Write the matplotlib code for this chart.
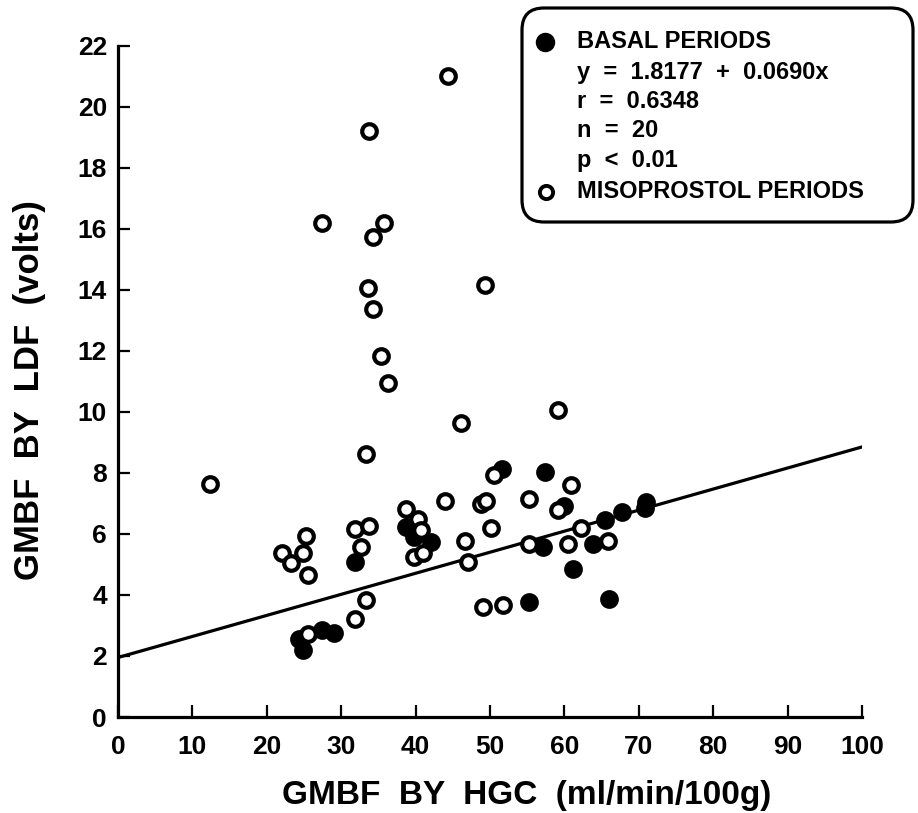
import matplotlib
matplotlib.use('Agg')
import matplotlib.pyplot as plt
from matplotlib.patches import FancyBboxPatch
from matplotlib.lines import Line2D
from matplotlib.transforms import IdentityTransform

# basal periods (filled circles)
basal_x = [24.3, 24.9, 27.4, 29.0, 31.8, 38.7, 39.8, 42.1, 51.6, 57.4,
           60.0, 57.1, 55.3, 61.2, 63.9, 65.4, 67.8, 70.8, 71.0, 66.0]
basal_y = [2.57, 2.19, 2.86, 2.76, 5.08, 6.23, 5.90, 5.74, 8.12, 8.03,
           6.91, 5.57, 3.77, 4.86, 5.68, 6.45, 6.72, 6.85, 7.05, 3.86]

# misoprostol periods (open circles)
miso_x = [12.4, 44.4, 33.7, 27.4, 35.8, 34.3, 33.6, 34.3, 35.3, 36.3,
          49.3, 46.1, 59.2, 33.4,
          22.1, 23.3, 24.9, 25.3, 25.6, 25.6,
          31.9, 33.7, 32.6, 33.3, 31.8,
          38.7, 40.3, 40.7, 39.8, 41.0,
          43.9, 46.7, 47.0, 48.8, 49.5, 50.1, 50.5, 49.0, 51.8,
          55.3, 55.3, 59.1, 60.9, 60.5, 62.2, 65.8]
miso_y = [7.65, 21.0, 19.2, 16.18, 16.2, 15.72, 14.06, 13.37, 11.83, 10.95,
          14.16, 9.64, 10.05, 8.63,
          5.38, 5.06, 5.38, 5.92, 4.65, 2.73,
          6.17, 6.25, 5.57, 3.85, 3.21,
          6.83, 6.50, 6.12, 5.24, 5.38,
          7.07, 5.77, 5.08, 6.97, 7.07, 6.20, 7.92, 3.59, 3.68,
          7.16, 5.66, 6.78, 7.59, 5.66, 6.20, 5.77]

# regression line for basal periods, as drawn
fit_x = [0, 100]
fit_y = [1.95, 8.85]

x_ticks = list(range(0, 101, 10))
y_ticks = list(range(0, 23, 2))

legend_lines = ["BASAL PERIODS", "y  =  1.8177  +  0.0690x", "r  =  0.6348",
                "n  =  20", "p  <  0.01", "MISOPROSTOL PERIODS"]

plt.rcParams['font.family'] = ['Liberation Sans', 'DejaVu Sans']
plt.rcParams['font.weight'] = 'bold'

W, H = 918, 813
fig = plt.figure(figsize=(W / 100, H / 100), dpi=100)
ax = fig.add_axes([118 / W, 1 - 717 / H, 744 / W, (717 - 45.7) / H])

ax.plot(fit_x, fit_y, color='black', lw=2.3, zorder=2)
ax.plot(basal_x, basal_y, 'o', ms=10.5, mfc='black', mec='black', mew=3, zorder=3)
ax.plot(miso_x, miso_y, 'o', ms=10.5, mfc='white', mec='black', mew=3, zorder=4)

ax.set_xlim(0, 100)
ax.set_ylim(0, 22)
ax.set_xticks(x_ticks)
ax.set_yticks(y_ticks)
for s in ['top', 'right']:
    ax.spines[s].set_visible(False)
for s in ['left', 'bottom']:
    ax.spines[s].set_linewidth(2.3)
ax.tick_params(direction='in', length=8.5, width=1.6, labelsize=19)
ax.tick_params(axis='x', pad=13)
ax.tick_params(axis='y', pad=8)

fig.text(527 / W, 1 - 795 / H, "GMBF  BY  HGC  (ml/min/100g)", ha='center', va='center', fontsize=24)
fig.text(30 / W, 1 - 390 / H, "GMBF  BY  LDF  (volts)", ha='center', va='center',
         rotation=90, fontsize=25)

# legend box
box = FancyBboxPatch((522, H - 222), 391, 214, boxstyle='round,pad=0,rounding_size=22',
                     transform=IdentityTransform(), fill=False, lw=2.3, ec='black')
fig.add_artist(box)
rows = [42, 73, 102, 130, 160, 192]
for txt, yy in zip(legend_lines, rows):
    fig.text(577 / W, 1 - yy / H, txt, ha='left', va='center', fontsize=17)
fig.add_artist(Line2D([545], [H - 42], marker='o', ms=11, mfc='black', mec='black', mew=3,
                      transform=IdentityTransform()))
fig.add_artist(Line2D([546], [H - 192], marker='o', ms=9.5, mfc='white', mec='black', mew=2.8,
                      transform=IdentityTransform()))

fig.savefig('out.png', dpi=100)
